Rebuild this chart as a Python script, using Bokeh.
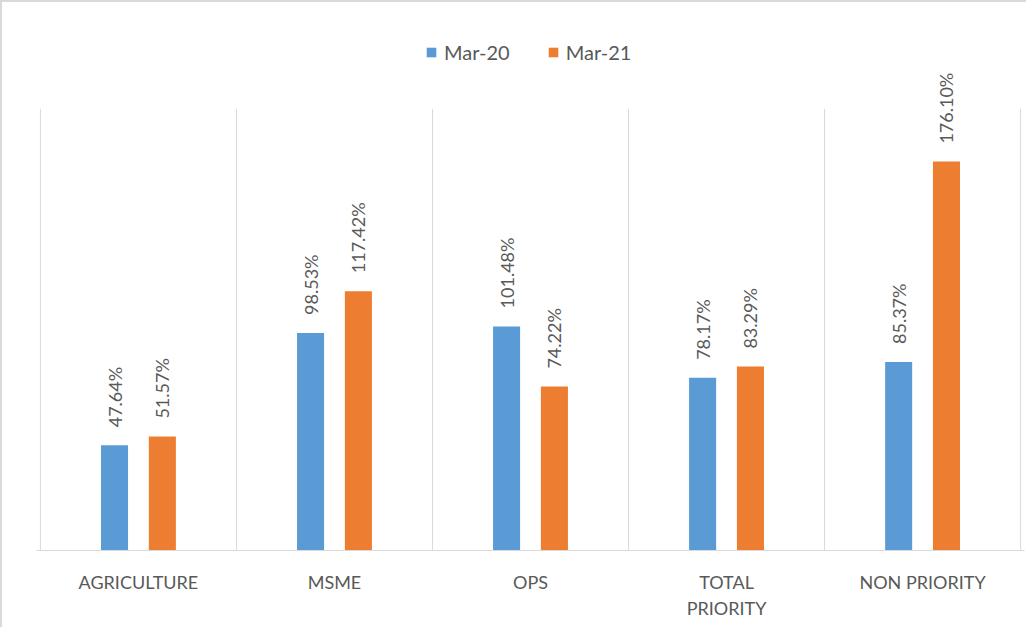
import math
from bokeh.plotting import figure
from bokeh.models import ColumnDataSource, Range1d, FixedTicker, Legend, LegendItem
from bokeh.transform import dodge
from bokeh.core.properties import value
from bokeh.embed import file_html
from bokeh.resources import INLINE

categories = ["AGRICULTURE", "MSME", "OPS", "TOTAL\nPRIORITY", "NON PRIORITY"]
mar20 = [47.64, 98.53, 101.48, 78.17, 85.37]
mar21 = [51.57, 117.42, 74.22, 83.29, 176.10]
series_names = ["Mar-20", "Mar-21"]
y_max = 200

BLUE = "#5B9BD5"
ORANGE = "#ED7D31"
TEXT = "#595959"
GRID = "#d9d9d9"
FONT = "Lato"

n = len(categories)
xs = [i + 0.5 for i in range(n)]
bounds = list(range(n + 1))
src = ColumnDataSource(dict(
    x=xs,
    mar20=mar20,
    mar21=mar21,
    lab20=[f"{v:.2f}%" for v in mar20],
    lab21=[f"{v:.2f}%" for v in mar21],
))

p = figure(width=1026, height=627, output_backend="svg", toolbar_location=None,
           x_range=Range1d(-0.02, n + 0.02), y_range=Range1d(0, 240),
           y_axis_location=None,
           min_border_left=34, min_border_right=4, min_border_top=18, min_border_bottom=79)
p.styles = {"border-left": "2px solid #d9d9d9", "border-top": "2px solid #d9d9d9"}
p.outline_line_color = None
p.background_fill_color = "white"
p.border_fill_color = "white"
p.xgrid.grid_line_color = None
p.ygrid.grid_line_color = None

# separators between categories
p.segment(x0=bounds, y0=[0] * len(bounds), x1=bounds, y1=[y_max] * len(bounds),
          line_color=GRID, line_width=1)

# x axis
p.xaxis.ticker = FixedTicker(ticks=xs)
p.xaxis.major_label_overrides = {x: c for x, c in zip(xs, categories)}
p.xaxis.axis_line_color = GRID
p.xaxis.axis_line_width = 1
p.xaxis.major_tick_line_color = None
p.xaxis.minor_tick_line_color = None
p.xaxis.major_label_text_font = FONT
p.xaxis.major_label_text_font_size = "18px"
p.xaxis.major_label_text_color = TEXT
p.xaxis.major_label_standoff = 14

off = 0.122
w = 0.138
r1 = p.vbar(x=dodge("x", -off, range=p.x_range), top="mar20", width=w, bottom=0,
            source=src, fill_color=BLUE, line_color=None)
r2 = p.vbar(x=dodge("x", off, range=p.x_range), top="mar21", width=w, bottom=0,
            source=src, fill_color=ORANGE, line_color=None)

for col, lab, d in (("mar20", "lab20", -off), ("mar21", "lab21", off)):
    p.text(x=dodge("x", d, range=p.x_range), y=col, text=lab, source=src,
           angle=math.pi / 2, text_align="left", text_baseline="middle",
           y_offset=-18, text_font=value(FONT), text_font_size="18px",
           text_color=TEXT)

legend = Legend(items=[LegendItem(label=series_names[0], renderers=[r1]),
                       LegendItem(label=series_names[1], renderers=[r2])],
                orientation="horizontal", location=(389, 486),
                glyph_width=12, glyph_height=12, label_standoff=7, spacing=37,
                padding=0, margin=0, border_line_color=None,
                background_fill_alpha=0,
                label_text_font=FONT, label_text_font_size="20px",
                label_text_color=TEXT)
p.add_layout(legend, "center")

open("out.html", "w").write(file_html(p, INLINE))
